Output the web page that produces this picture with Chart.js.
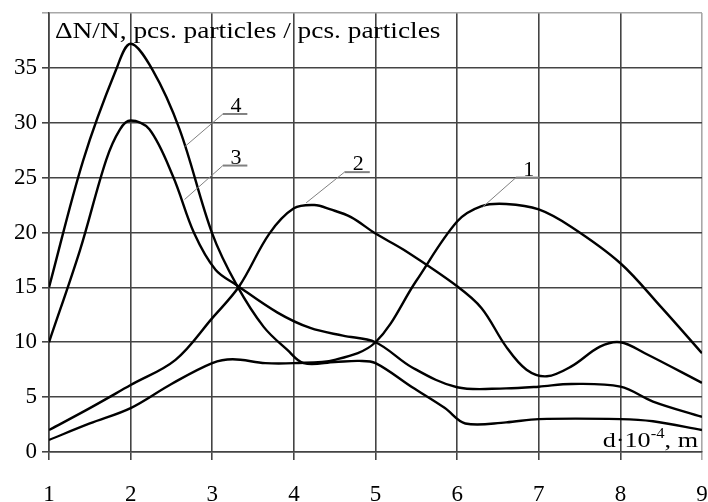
<!DOCTYPE html>
<html>
<head>
<meta charset="utf-8">
<script src="https://cdn.jsdelivr.net/npm/chart.js@4.4.1/dist/chart.umd.min.js"></script>
<style>
	html, body { margin: 0; padding: 0; background: #fff; }
	#wrap { width: 708px; height: 502px; }
</style>
</head>
<body>
<div id="wrap"><canvas id="chart" width="708" height="502"></canvas></div>
<script>
// values
const xTicks = [1, 2, 3, 4, 5, 6, 7, 8, 9];
const yTicks = [0, 5, 10, 15, 20, 25, 30, 35];

const curve1X = [1, 1.5, 2, 2.5, 3, 3.25, 3.65, 4, 4.5, 5, 5.5, 6, 6.3, 6.6, 7, 7.4, 8, 8.5, 9];
const curve1Y = [1.1, 2.6, 4.0, 6.2, 8.1, 8.45, 8.1, 8.1, 8.4, 10, 15.6, 21, 22.4, 22.6, 22.1, 20.5, 17.2, 13.2, 9.0];

const curve2X = [1, 1.5, 2, 2.55, 3, 3.33, 3.7, 4, 4.25, 4.45, 4.7, 5, 5.35, 6, 6.3, 6.6, 6.85, 7.1, 7.4, 7.75, 8, 8.3, 9];
const curve2Y = [2.0, 4.0, 6.1, 8.4, 12.2, 15.1, 19.9, 22.2, 22.5, 22.1, 21.4, 19.9, 18.4, 15.1, 13.1, 9.6, 7.5, 6.9, 7.8, 9.6, 10.0, 9.0, 6.3];

const curve3X = [1, 1.38, 1.7, 1.87, 2, 2.23, 2.52, 2.78, 3.04, 3.3, 3.8, 4.2, 4.6, 5, 5.45, 6, 6.6, 7, 7.4, 8, 8.4, 9];
const curve3Y = [10, 18.4, 26.6, 29.4, 30.2, 29.4, 25.1, 19.9, 16.6, 15.2, 12.7, 11.3, 10.6, 10, 7.7, 5.9, 5.8, 5.95, 6.2, 5.95, 4.6, 3.2];

const curve4X = [1, 1.42, 1.82, 2, 2.27, 2.6, 3, 3.3, 3.63, 3.92, 4.12, 4.5, 4.8, 5, 5.45, 5.85, 6.1, 6.6, 7, 8, 8.4, 9];
const curve4Y = [15, 26.6, 34.8, 37.2, 34.8, 29.4, 19.9, 15.2, 11.4, 9.3, 8.1, 8.2, 8.3, 8.1, 5.9, 4.0, 2.6, 2.7, 3.0, 3.0, 2.8, 2.0];

const curveNames = ['1', '2', '3', '4'];

const yTitle = 'ΔN/N, pcs. particles / pcs. particles';
const xTitle = 'd·10';
const xTitleSup = '-4';
const xTitleTail = ', m';

const serif = '"Liberation Serif", "DejaVu Serif", serif';
const stretch = 1.19; // the scan's lettering is a bit wider than Liberation Serif

const toPoints = (xs, ys) => xs.map((x, i) => ({ x: x, y: ys[i] }));

// leader lines for the curve numbers: [curve tip, elbow, underline end] in data units
const leaders = [
	{ name: curveNames[0], tip: [6.31, 22.3], elbow: [6.72, 25.0], end: [7.01, 25.0] },
	{ name: curveNames[1], tip: [4.15, 22.7], elbow: [4.62, 25.5], end: [4.93, 25.5] },
	{ name: curveNames[2], tip: [2.66, 23.0], elbow: [3.13, 26.1], end: [3.43, 26.1] },
	{ name: curveNames[3], tip: [2.66, 27.8], elbow: [3.13, 30.8], end: [3.43, 30.8] }
];

function wideText(ctx, text, x, y) {
	ctx.save();
	ctx.translate(x, y);
	ctx.scale(stretch, 1);
	ctx.fillText(text, 0, 0);
	ctx.restore();
	return ctx.measureText(text).width * stretch;
}

const textPlugin = {
	id: 'textPlugin',
	afterDatasetsDraw(chart) {
		const ctx = chart.ctx;
		const xs = chart.scales.x;
		const ys = chart.scales.y;
		const area = chart.chartArea;
		ctx.save();

		leaders.forEach(l => {
			const tx = xs.getPixelForValue(l.tip[0]), ty = ys.getPixelForValue(l.tip[1]);
			const ex = xs.getPixelForValue(l.elbow[0]), ey = ys.getPixelForValue(l.elbow[1]);
			const nx = xs.getPixelForValue(l.end[0]);
			ctx.strokeStyle = '#808080';
			ctx.lineWidth = 1;
			ctx.beginPath();
			ctx.moveTo(tx, ty);
			ctx.lineTo(ex, ey);
			ctx.stroke();
			ctx.lineWidth = 2;
			ctx.beginPath();
			ctx.moveTo(ex, ey);
			ctx.lineTo(nx, ey);
			ctx.stroke();
			ctx.fillStyle = '#000';
			ctx.font = '22px ' + serif;
			ctx.textAlign = 'center';
			ctx.textBaseline = 'alphabetic';
			ctx.fillText(l.name, (ex + nx) / 2 + 1, ey - 2);
		});

		ctx.fillStyle = '#000';
		ctx.textAlign = 'left';
		ctx.textBaseline = 'alphabetic';
		ctx.font = '23px ' + serif;
		wideText(ctx, yTitle, area.left + 6, area.top + 25);

		// axis name at the bottom right, with superscript
		ctx.font = '22px ' + serif;
		const mainW = ctx.measureText(xTitle).width * stretch;
		const tailW = ctx.measureText(xTitleTail).width * stretch;
		ctx.font = '14px ' + serif;
		const supW = ctx.measureText(xTitleSup).width * stretch;
		const base = area.bottom - 5;
		let x0 = area.right - 4 - tailW - supW - mainW;
		ctx.font = '22px ' + serif;
		x0 += wideText(ctx, xTitle, x0, base);
		ctx.font = '14px ' + serif;
		x0 += wideText(ctx, xTitleSup, x0, base - 9);
		ctx.font = '22px ' + serif;
		wideText(ctx, xTitleTail, x0, base);
		ctx.restore();
	}
};

const makeSet = (name, xs, ys) => ({
	label: name,
	data: toPoints(xs, ys),
	borderColor: '#000',
	borderWidth: 2.4,
	pointRadius: 0,
	fill: false,
	tension: 0.35
});

new Chart(document.getElementById('chart'), {
	type: 'line',
	data: {
		datasets: [
			makeSet(curveNames[0], curve1X, curve1Y),
			makeSet(curveNames[1], curve2X, curve2Y),
			makeSet(curveNames[2], curve3X, curve3Y),
			makeSet(curveNames[3], curve4X, curve4Y)
		]
	},
	options: {
		responsive: false,
		animation: false,
		layout: { padding: { left: 0, right: 6, top: 13, bottom: 0 } },
		plugins: {
			legend: { display: false },
			tooltip: { enabled: false }
		},
		scales: {
			x: {
				type: 'linear',
				min: 1,
				max: 9,
				afterBuildTicks: scale => { scale.ticks = xTicks.map(v => ({ value: v })); },
				afterFit: scale => {
					scale.height = 50;
					scale.paddingLeft = 0;
					scale.paddingRight = 0;
				},
				grid: {
					color: ctx => (ctx.tick && ctx.tick.value === 9) ? '#a8a8a8' : '#444',
					lineWidth: 1.6,
					tickLength: 8
				},
				border: { color: '#444', width: 1.6 },
				ticks: {
					color: '#000',
					font: { family: serif, size: 23 },
					padding: 21,
					maxRotation: 0
				}
			},
			y: {
				min: 0,
				max: 40,
				afterBuildTicks: scale => { scale.ticks = yTicks.concat([40]).map(v => ({ value: v })); },
				afterFit: scale => {
					scale.width = 49;
					scale.paddingTop = 0;
					scale.paddingBottom = 0;
				},
				grid: {
					color: ctx => (ctx.tick && ctx.tick.value === 40) ? '#a8a8a8' : '#444',
					lineWidth: 1.6,
					tickLength: 7
				},
				border: { color: '#444', width: 1.6 },
				ticks: {
					color: '#000',
					font: { family: serif, size: 23 },
					padding: 5,
					callback: v => (v === 40 ? '' : v)
				}
			}
		}
	},
	plugins: [textPlugin]
});
</script>
</body>
</html>
